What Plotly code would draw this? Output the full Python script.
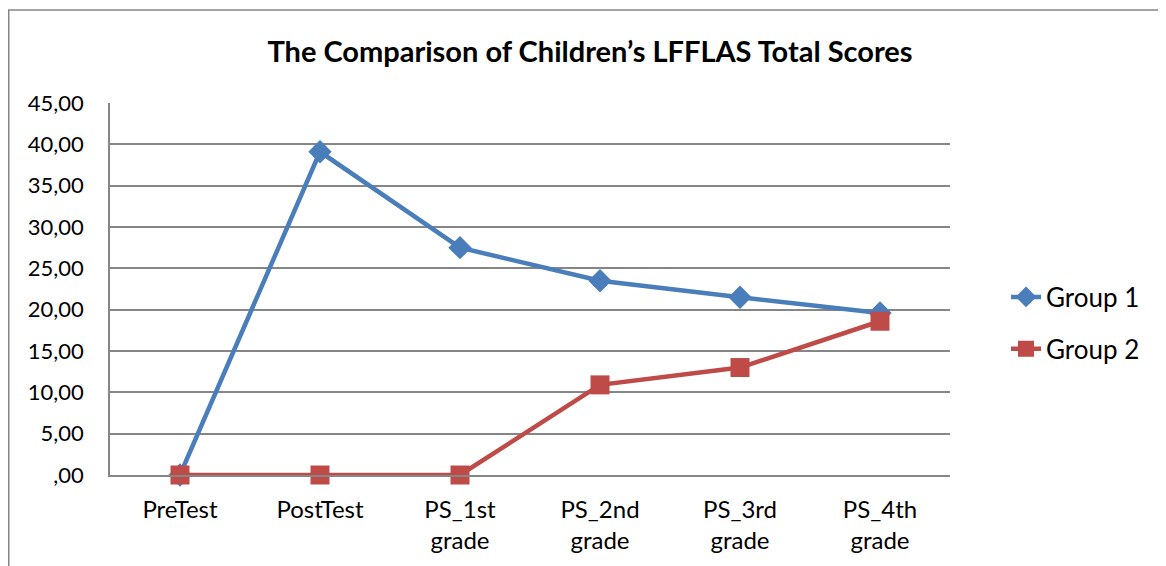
import plotly.graph_objects as go

categories = ["PreTest", "PostTest", "PS_1st<br>grade", "PS_2nd<br>grade", "PS_3rd<br>grade", "PS_4th<br>grade"]
group1 = [0.0, 39.1, 27.5, 23.5, 21.5, 19.6]
group2 = [0.0, 0.0, 0.0, 10.9, 13.0, 18.6]
y_tick_vals = [0, 5, 10, 15, 20, 25, 30, 35, 40, 45]
y_tick_text = [",00", "5,00", "10,00", "15,00", "20,00", "25,00", "30,00", "35,00", "40,00", "45,00"]

FONT = "Lato, 'Open Sans', sans-serif"

fig = go.Figure()
fig.add_trace(go.Scatter(
    x=categories, y=group1, name="Group 1", mode="lines+markers", legendgroup="g1",
    line=dict(color="#4A7EBB", width=4.5),
    marker=dict(symbol="diamond", size=18, color="#4A7EBB"),
    cliponaxis=False,
))
fig.add_trace(go.Scatter(
    x=categories, y=group2, name="Group 2", mode="lines+markers", legendgroup="g2",
    line=dict(color="#BE4B48", width=4.5),
    marker=dict(symbol="square", size=19, color="#BE4B48"),
    cliponaxis=False,
))

# page has an 8px body margin; figure coordinates = page coordinates - 8
W, H = 1158, 558
L, T = 102, 95
PR, PB = 942, 467
R, B = W - PR, H - PB
pw, ph = PR - L, PB - T

fig.update_layout(
    width=W, height=H,
    margin=dict(l=L, r=R, t=T, b=B),
    paper_bgcolor="white", plot_bgcolor="white",
    font=dict(family=FONT, size=22, color="black"),
    title=dict(text="<b>The Comparison of Children’s LFFLAS Total Scores</b>",
               x=582 / W, xanchor="center", y=1 - 44 / H, yanchor="middle",
               font=dict(family=FONT, size=29, color="black")),
    showlegend=True,
    legend=dict(x=(998 - L) / pw, xanchor="left", y=(PB - 315) / ph, yanchor="middle",
                font=dict(family=FONT, size=26, color="black"),
                traceorder="grouped", tracegroupgap=15,
                bgcolor="rgba(0,0,0,0)"),
    xaxis=dict(type="category", range=[-0.5, 5.5], showgrid=False,
               showline=True, linecolor="#868686", linewidth=1.5,
               ticks="", ticklabelstandoff=12,
               tickfont=dict(family=FONT, size=24, color="black"),
               fixedrange=True),
    yaxis=dict(range=[0, 45], tickvals=y_tick_vals, ticktext=y_tick_text,
               showgrid=True, gridcolor="#868686", gridwidth=1.5,
               showline=True, linecolor="#868686", linewidth=1.5,
               zeroline=False, ticks="", ticklabelstandoff=20,
               tickfont=dict(family=FONT, size=22, color="black"),
               fixedrange=True),
    shapes=[dict(type="rect", xref="paper", yref="paper",
                 x0=(0.75 - L) / pw, x1=(W + 20 - L) / pw,
                 y0=(PB - (H + 20)) / ph, y1=(PB - 2) / ph,
                 line=dict(color="#868686", width=1.5), fillcolor="rgba(0,0,0,0)",
                 layer="below")],
)

fig.write_html("out.html")
